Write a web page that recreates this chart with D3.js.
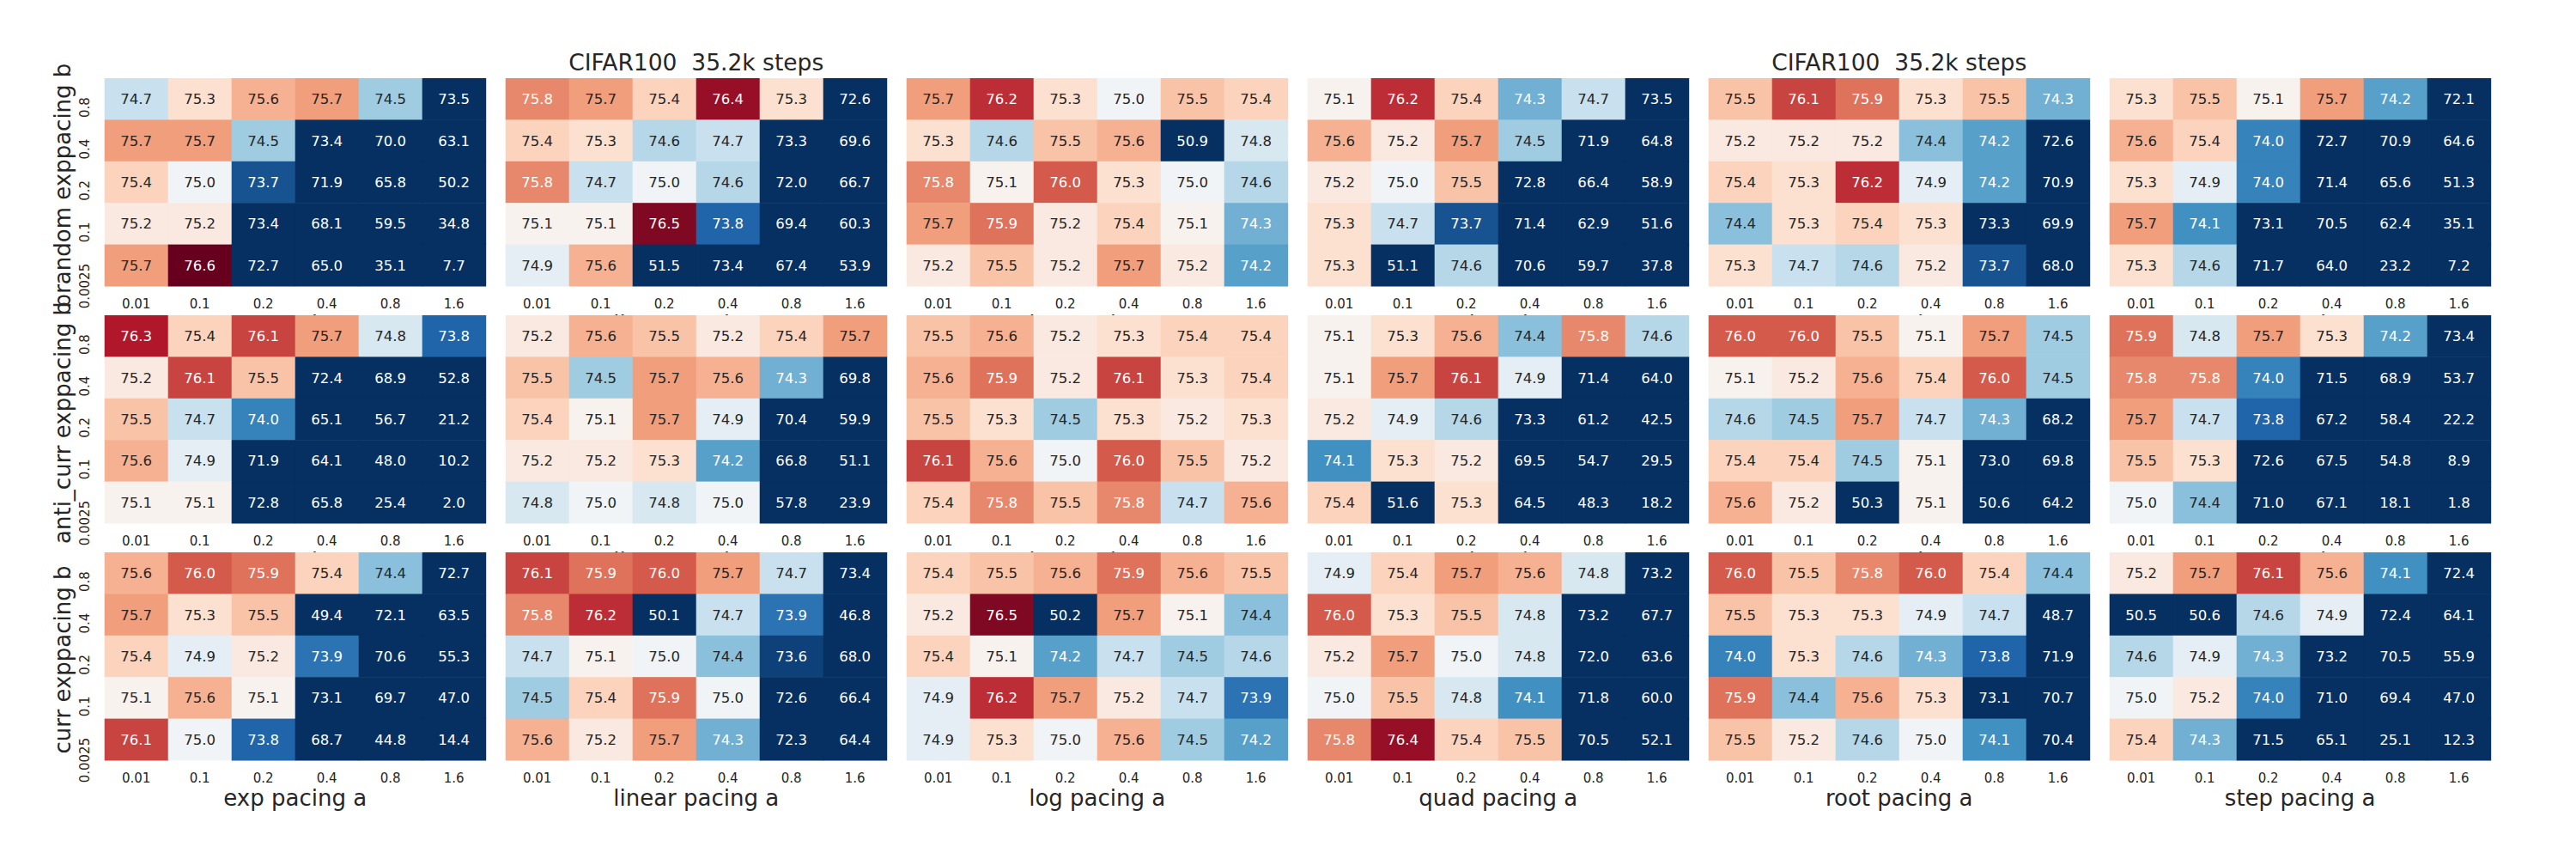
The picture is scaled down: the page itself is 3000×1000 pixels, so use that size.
<!DOCTYPE html>
<html>
<head>
<meta charset="utf-8">
<script src="https://cdn.jsdelivr.net/npm/d3@7"></script>
<style>
  body { margin: 0; background: #fff; }
  svg text { font-family: "DejaVu Sans", sans-serif; }
</style>
</head>
<body>
<div id="chart"></div>
<script>
// axes labels / categories
const aTicks = ["0.01", "0.1", "0.2", "0.4", "0.8", "1.6"];
const bTicks = ["0.8", "0.4", "0.2", "0.1", "0.0025"];
const pacings = ["exp", "linear", "log", "quad", "root", "step"];
const schedules = ["brandom", "anti_curr", "curr"];
const titledPacings = ["linear", "root"];
const titleText = "CIFAR100  35.2k steps";

// accuracy per pacing (rows = b, cols = a), one list per schedule
const brandomAcc = [
  [[74.7, 75.3, 75.6, 75.7, 74.5, 73.5],
   [75.7, 75.7, 74.5, 73.4, 70.0, 63.1],
   [75.4, 75.0, 73.7, 71.9, 65.8, 50.2],
   [75.2, 75.2, 73.4, 68.1, 59.5, 34.8],
   [75.7, 76.6, 72.7, 65.0, 35.1, 7.7]],
  [[75.8, 75.7, 75.4, 76.4, 75.3, 72.6],
   [75.4, 75.3, 74.6, 74.7, 73.3, 69.6],
   [75.8, 74.7, 75.0, 74.6, 72.0, 66.7],
   [75.1, 75.1, 76.5, 73.8, 69.4, 60.3],
   [74.9, 75.6, 51.5, 73.4, 67.4, 53.9]],
  [[75.7, 76.2, 75.3, 75.0, 75.5, 75.4],
   [75.3, 74.6, 75.5, 75.6, 50.9, 74.8],
   [75.8, 75.1, 76.0, 75.3, 75.0, 74.6],
   [75.7, 75.9, 75.2, 75.4, 75.1, 74.3],
   [75.2, 75.5, 75.2, 75.7, 75.2, 74.2]],
  [[75.1, 76.2, 75.4, 74.3, 74.7, 73.5],
   [75.6, 75.2, 75.7, 74.5, 71.9, 64.8],
   [75.2, 75.0, 75.5, 72.8, 66.4, 58.9],
   [75.3, 74.7, 73.7, 71.4, 62.9, 51.6],
   [75.3, 51.1, 74.6, 70.6, 59.7, 37.8]],
  [[75.5, 76.1, 75.9, 75.3, 75.5, 74.3],
   [75.2, 75.2, 75.2, 74.4, 74.2, 72.6],
   [75.4, 75.3, 76.2, 74.9, 74.2, 70.9],
   [74.4, 75.3, 75.4, 75.3, 73.3, 69.9],
   [75.3, 74.7, 74.6, 75.2, 73.7, 68.0]],
  [[75.3, 75.5, 75.1, 75.7, 74.2, 72.1],
   [75.6, 75.4, 74.0, 72.7, 70.9, 64.6],
   [75.3, 74.9, 74.0, 71.4, 65.6, 51.3],
   [75.7, 74.1, 73.1, 70.5, 62.4, 35.1],
   [75.3, 74.6, 71.7, 64.0, 23.2, 7.2]]
];

const antiCurrAcc = [
  [[76.3, 75.4, 76.1, 75.7, 74.8, 73.8],
   [75.2, 76.1, 75.5, 72.4, 68.9, 52.8],
   [75.5, 74.7, 74.0, 65.1, 56.7, 21.2],
   [75.6, 74.9, 71.9, 64.1, 48.0, 10.2],
   [75.1, 75.1, 72.8, 65.8, 25.4, 2.0]],
  [[75.2, 75.6, 75.5, 75.2, 75.4, 75.7],
   [75.5, 74.5, 75.7, 75.6, 74.3, 69.8],
   [75.4, 75.1, 75.7, 74.9, 70.4, 59.9],
   [75.2, 75.2, 75.3, 74.2, 66.8, 51.1],
   [74.8, 75.0, 74.8, 75.0, 57.8, 23.9]],
  [[75.5, 75.6, 75.2, 75.3, 75.4, 75.4],
   [75.6, 75.9, 75.2, 76.1, 75.3, 75.4],
   [75.5, 75.3, 74.5, 75.3, 75.2, 75.3],
   [76.1, 75.6, 75.0, 76.0, 75.5, 75.2],
   [75.4, 75.8, 75.5, 75.8, 74.7, 75.6]],
  [[75.1, 75.3, 75.6, 74.4, 75.8, 74.6],
   [75.1, 75.7, 76.1, 74.9, 71.4, 64.0],
   [75.2, 74.9, 74.6, 73.3, 61.2, 42.5],
   [74.1, 75.3, 75.2, 69.5, 54.7, 29.5],
   [75.4, 51.6, 75.3, 64.5, 48.3, 18.2]],
  [[76.0, 76.0, 75.5, 75.1, 75.7, 74.5],
   [75.1, 75.2, 75.6, 75.4, 76.0, 74.5],
   [74.6, 74.5, 75.7, 74.7, 74.3, 68.2],
   [75.4, 75.4, 74.5, 75.1, 73.0, 69.8],
   [75.6, 75.2, 50.3, 75.1, 50.6, 64.2]],
  [[75.9, 74.8, 75.7, 75.3, 74.2, 73.4],
   [75.8, 75.8, 74.0, 71.5, 68.9, 53.7],
   [75.7, 74.7, 73.8, 67.2, 58.4, 22.2],
   [75.5, 75.3, 72.6, 67.5, 54.8, 8.9],
   [75.0, 74.4, 71.0, 67.1, 18.1, 1.8]]
];

const currAcc = [
  [[75.6, 76.0, 75.9, 75.4, 74.4, 72.7],
   [75.7, 75.3, 75.5, 49.4, 72.1, 63.5],
   [75.4, 74.9, 75.2, 73.9, 70.6, 55.3],
   [75.1, 75.6, 75.1, 73.1, 69.7, 47.0],
   [76.1, 75.0, 73.8, 68.7, 44.8, 14.4]],
  [[76.1, 75.9, 76.0, 75.7, 74.7, 73.4],
   [75.8, 76.2, 50.1, 74.7, 73.9, 46.8],
   [74.7, 75.1, 75.0, 74.4, 73.6, 68.0],
   [74.5, 75.4, 75.9, 75.0, 72.6, 66.4],
   [75.6, 75.2, 75.7, 74.3, 72.3, 64.4]],
  [[75.4, 75.5, 75.6, 75.9, 75.6, 75.5],
   [75.2, 76.5, 50.2, 75.7, 75.1, 74.4],
   [75.4, 75.1, 74.2, 74.7, 74.5, 74.6],
   [74.9, 76.2, 75.7, 75.2, 74.7, 73.9],
   [74.9, 75.3, 75.0, 75.6, 74.5, 74.2]],
  [[74.9, 75.4, 75.7, 75.6, 74.8, 73.2],
   [76.0, 75.3, 75.5, 74.8, 73.2, 67.7],
   [75.2, 75.7, 75.0, 74.8, 72.0, 63.6],
   [75.0, 75.5, 74.8, 74.1, 71.8, 60.0],
   [75.8, 76.4, 75.4, 75.5, 70.5, 52.1]],
  [[76.0, 75.5, 75.8, 76.0, 75.4, 74.4],
   [75.5, 75.3, 75.3, 74.9, 74.7, 48.7],
   [74.0, 75.3, 74.6, 74.3, 73.8, 71.9],
   [75.9, 74.4, 75.6, 75.3, 73.1, 70.7],
   [75.5, 75.2, 74.6, 75.0, 74.1, 70.4]],
  [[75.2, 75.7, 76.1, 75.6, 74.1, 72.4],
   [50.5, 50.6, 74.6, 74.9, 72.4, 64.1],
   [74.6, 74.9, 74.3, 73.2, 70.5, 55.9],
   [75.0, 75.2, 74.0, 71.0, 69.4, 47.0],
   [75.4, 74.3, 71.5, 65.1, 25.1, 12.3]]
];

const accBySchedule = new Map([
  ["brandom", brandomAcc],
  ["anti_curr", antiCurrAcc],
  ["curr", currAcc]
]);

const width = 3000;
const height = 1000;
const vmin = 73.5, vmax = 76.6;
const ink = "#262626";

const svg = d3.select("#chart")
  .append("svg")
  .attr("width", width)
  .attr("height", height);

svg.append("rect").attr("width", width).attr("height", height).attr("fill", "#fff");

// panel grid
const col = d3.scaleBand()
  .domain(pacings)
  .range([121.7, 2900.7])
  .paddingInner(23 / 467);

const row = d3.scaleBand()
  .domain(schedules)
  .range([91, 885])
  .paddingInner(34 / 276);

// cells inside one panel
const x = d3.scaleBand().domain(aTicks).range([0, col.bandwidth()]);
const y = d3.scaleBand().domain(bTicks).range([0, row.bandwidth()]);

// RdBu_r, linear segments like matplotlib
const rdbu = ["#053061", "#2166ac", "#4393c3", "#92c5de", "#d1e5f0", "#f7f7f7",
              "#fddbc7", "#f4a582", "#d6604d", "#b2182b", "#67001f"];
const color = d3.scaleLinear()
  .domain(d3.range(11).map(i => vmin + i * (vmax - vmin) / 10))
  .range(rdbu)
  .interpolate(d3.interpolateRgb)
  .clamp(true);

function textColor(c) {
  const rgb = d3.rgb(c);
  const lin = v => {
    v /= 255;
    return v <= 0.03928 ? v / 12.92 : Math.pow((v + 0.055) / 1.055, 2.4);
  };
  const lum = 0.2126 * lin(rgb.r) + 0.7152 * lin(rgb.g) + 0.0722 * lin(rgb.b);
  return lum > 0.408 ? ink : "#ffffff";
}

const fmt = d3.format(".1f");

schedules.forEach(s => {
  const panels = accBySchedule.get(s);

  pacings.forEach((p, pi) => {
    const matrix = panels[pi];
    const cells = [];
    bTicks.forEach((b, bi) => {
      aTicks.forEach((a, ai) => {
        cells.push({ a: a, b: b, v: matrix[bi][ai] });
      });
    });

    const g = svg.append("g")
      .attr("transform", `translate(${col(p)},${row(s)})`);

    g.append("g")
      .selectAll("rect")
      .data(cells)
      .join("rect")
        .attr("x", d => x(d.a))
        .attr("y", d => y(d.b))
        .attr("width", x.bandwidth() + 0.5)
        .attr("height", y.bandwidth() + 0.5)
        .attr("fill", d => color(d.v));

    g.append("g")
      .selectAll("text")
      .data(cells)
      .join("text")
        .attr("x", d => x(d.a) + x.bandwidth() / 2)
        .attr("y", d => y(d.b) + y.bandwidth() / 2)
        .attr("dy", "0.36em")
        .attr("text-anchor", "middle")
        .attr("font-size", 16.5)
        .style("fill", d => textColor(color(d.v)))
        .text(d => fmt(d.v));

    // x axis
    const xg = g.append("g")
      .attr("transform", `translate(0,${row.bandwidth()})`)
      .call(d3.axisBottom(x).tickSize(0).tickPadding(15.5))
      .attr("font-size", null)
      .attr("font-family", null);
    xg.select(".domain").remove();
    xg.selectAll("text")
      .attr("font-size", 15)
      .style("fill", ink);

    // x label (partly hidden by the next row, as in the original)
    g.append("text")
      .attr("x", col.bandwidth() / 2)
      .attr("y", row.bandwidth() + 53)
      .attr("text-anchor", "middle")
      .attr("font-size", 26)
      .style("fill", ink)
      .text(`${p} pacing a`);

    if (pi === 0) {
      const yg = g.append("g")
        .call(d3.axisLeft(y).tickSize(0))
        .attr("font-size", null)
        .attr("font-family", null);
      yg.select(".domain").remove();
      yg.selectAll("text")
        .attr("x", null)
        .attr("dy", null)
        .attr("text-anchor", "end")
        .attr("transform", "translate(-18.2,-2) rotate(-90)")
        .attr("font-size", 15)
        .style("fill", ink);

      g.append("text")
        .attr("transform", `translate(${82 - col(p)},${row.bandwidth() / 2 + 4}) rotate(-90)`)
        .attr("text-anchor", "middle")
        .attr("font-size", 26)
        .style("fill", ink)
        .text(`${s} exppacing b`);
    }

    if (s === schedules[0] && titledPacings.includes(p)) {
      g.append("text")
        .attr("x", col.bandwidth() / 2)
        .attr("y", -9)
        .attr("text-anchor", "middle")
        .attr("font-size", 26.5)
        .style("fill", ink)
        .style("white-space", "pre")
        .text(titleText);
    }
  });
});
</script>
</body>
</html>
